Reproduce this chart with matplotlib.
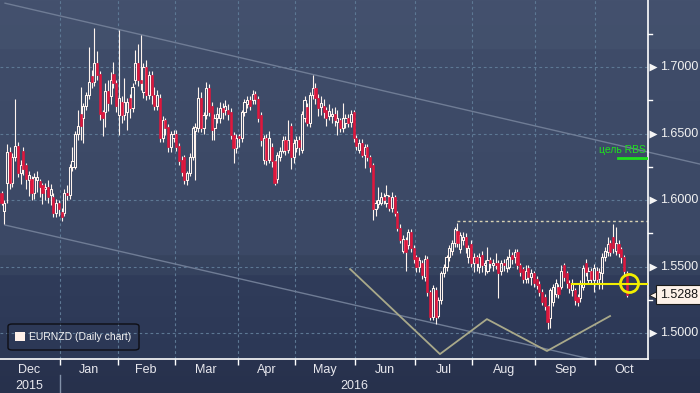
import numpy as np
import pandas as pd
import matplotlib
matplotlib.use("Agg")
import matplotlib.pyplot as plt
import matplotlib.transforms as mtransforms
from matplotlib.patches import Rectangle, FancyBboxPatch
from matplotlib.collections import PatchCollection

plt.rcParams['font.family'] = ['Liberation Sans', 'DejaVu Sans']

# ---------------- data (EURNZD daily, Dec 2015 - Oct 2016) ----------------
start_date = '2015-12-02'

opens = [
    1.605, 1.592, 1.613, 1.636, 1.613, 1.632, 1.641, 1.620, 1.637, 1.626, 1.615, 1.616, 1.605, 1.615, 1.614, 1.611, 1.608, 1.610, 1.604, 1.602, 1.590, 1.598,
    1.591, 1.590, 1.605, 1.604, 1.625, 1.625, 1.650, 1.665, 1.662, 1.671, 1.679, 1.693, 1.689, 1.703, 1.695, 1.666, 1.666, 1.682, 1.678, 1.695, 1.688,
    1.664, 1.674, 1.664, 1.666, 1.677, 1.669, 1.690, 1.703, 1.690, 1.681, 1.700, 1.679, 1.694, 1.679, 1.671, 1.677, 1.647, 1.660, 1.655, 1.640, 1.647,
    1.650, 1.641, 1.630, 1.632, 1.615, 1.620, 1.632, 1.652, 1.654, 1.677, 1.654, 1.664, 1.684, 1.671, 1.654, 1.662, 1.662, 1.669, 1.668, 1.668, 1.666, 1.649, 1.639,
    1.648, 1.647, 1.666, 1.672, 1.675, 1.675, 1.680, 1.676, 1.664, 1.630, 1.647, 1.630, 1.640, 1.629, 1.616, 1.632, 1.637, 1.645, 1.638, 1.656, 1.632,
    1.639, 1.645, 1.638, 1.662, 1.670, 1.658, 1.679, 1.684, 1.677, 1.670, 1.671, 1.668, 1.663, 1.663, 1.665, 1.659, 1.660, 1.654, 1.658, 1.662, 1.659, 1.666,
    1.647, 1.638, 1.643, 1.634, 1.640, 1.632, 1.626, 1.593, 1.597, 1.598, 1.602, 1.598, 1.602, 1.594, 1.602, 1.590, 1.579, 1.562, 1.570, 1.566, 1.576, 1.564,
    1.557, 1.550, 1.553, 1.542, 1.556, 1.531, 1.512, 1.532, 1.513, 1.525, 1.545, 1.550, 1.557, 1.562, 1.568, 1.577, 1.563, 1.570, 1.572, 1.557, 1.567,
    1.553, 1.557, 1.550, 1.559, 1.551, 1.547, 1.555, 1.551, 1.553, 1.553, 1.547, 1.553, 1.549, 1.550, 1.559, 1.557, 1.561, 1.551, 1.548, 1.541, 1.549, 1.542, 1.545,
    1.541, 1.537, 1.531, 1.527, 1.520, 1.511, 1.523, 1.529, 1.535, 1.535, 1.551, 1.545, 1.538, 1.532, 1.532, 1.527, 1.526, 1.535, 1.553, 1.540, 1.547, 1.540,
    1.547, 1.541, 1.545, 1.557, 1.561, 1.568, 1.572, 1.562, 1.567, 1.563, 1.557, 1.545,
]
highs = [
    1.607, 1.600, 1.642, 1.640, 1.635, 1.676, 1.644, 1.630, 1.640, 1.628, 1.622, 1.618, 1.620, 1.622, 1.616, 1.613, 1.613, 1.615, 1.612, 1.605, 1.601, 1.600,
    1.594, 1.608, 1.611, 1.627, 1.640, 1.652, 1.668, 1.685, 1.673, 1.681, 1.715, 1.698, 1.729, 1.712, 1.697, 1.668, 1.688, 1.690, 1.696, 1.704, 1.690,
    1.728, 1.678, 1.692, 1.677, 1.680, 1.688, 1.713, 1.717, 1.724, 1.703, 1.705, 1.697, 1.697, 1.685, 1.683, 1.680, 1.663, 1.662, 1.657, 1.652, 1.653,
    1.653, 1.643, 1.633, 1.634, 1.622, 1.635, 1.656, 1.658, 1.685, 1.681, 1.666, 1.689, 1.687, 1.674, 1.665, 1.670, 1.674, 1.673, 1.675, 1.672, 1.669, 1.651, 1.650,
    1.650, 1.668, 1.676, 1.678, 1.678, 1.683, 1.682, 1.678, 1.666, 1.649, 1.650, 1.652, 1.643, 1.630, 1.636, 1.640, 1.648, 1.648, 1.660, 1.658, 1.646,
    1.648, 1.648, 1.667, 1.678, 1.673, 1.681, 1.694, 1.688, 1.680, 1.678, 1.676, 1.670, 1.672, 1.669, 1.670, 1.668, 1.662, 1.673, 1.665, 1.665, 1.668, 1.668,
    1.649, 1.646, 1.646, 1.642, 1.642, 1.634, 1.628, 1.600, 1.610, 1.606, 1.605, 1.611, 1.604, 1.606, 1.604, 1.592, 1.582, 1.574, 1.572, 1.578, 1.578, 1.566,
    1.559, 1.557, 1.555, 1.559, 1.558, 1.532, 1.536, 1.535, 1.527, 1.547, 1.552, 1.559, 1.566, 1.570, 1.580, 1.583, 1.576, 1.576, 1.575, 1.566, 1.570,
    1.560, 1.559, 1.560, 1.562, 1.555, 1.565, 1.557, 1.556, 1.560, 1.555, 1.555, 1.556, 1.558, 1.563, 1.561, 1.563, 1.563, 1.553, 1.550, 1.551, 1.551, 1.548, 1.547,
    1.543, 1.539, 1.533, 1.529, 1.521, 1.534, 1.537, 1.541, 1.537, 1.551, 1.553, 1.547, 1.540, 1.541, 1.534, 1.529, 1.540, 1.551, 1.556, 1.550, 1.549, 1.552,
    1.550, 1.549, 1.560, 1.565, 1.572, 1.570, 1.582, 1.580, 1.570, 1.565, 1.559, 1.547,
]
lows = [
    1.596, 1.582, 1.598, 1.608, 1.610, 1.629, 1.617, 1.612, 1.619, 1.608, 1.603, 1.600, 1.601, 1.606, 1.602, 1.597, 1.600, 1.598, 1.596, 1.587, 1.587, 1.588,
    1.584, 1.588, 1.600, 1.601, 1.622, 1.623, 1.645, 1.645, 1.643, 1.668, 1.676, 1.684, 1.686, 1.690, 1.660, 1.648, 1.655, 1.667, 1.672, 1.684, 1.666,
    1.649, 1.658, 1.660, 1.653, 1.662, 1.666, 1.687, 1.686, 1.683, 1.677, 1.675, 1.676, 1.672, 1.668, 1.668, 1.644, 1.644, 1.649, 1.636, 1.636, 1.644,
    1.637, 1.626, 1.618, 1.612, 1.611, 1.618, 1.630, 1.615, 1.651, 1.651, 1.650, 1.661, 1.663, 1.645, 1.645, 1.658, 1.658, 1.661, 1.664, 1.660, 1.646, 1.628, 1.635,
    1.640, 1.644, 1.663, 1.669, 1.668, 1.672, 1.672, 1.659, 1.641, 1.627, 1.626, 1.628, 1.625, 1.611, 1.613, 1.629, 1.635, 1.634, 1.635, 1.623, 1.628,
    1.636, 1.634, 1.635, 1.659, 1.656, 1.655, 1.676, 1.672, 1.663, 1.664, 1.662, 1.656, 1.660, 1.658, 1.656, 1.649, 1.651, 1.651, 1.654, 1.655, 1.655, 1.644,
    1.638, 1.635, 1.632, 1.624, 1.629, 1.621, 1.585, 1.588, 1.594, 1.596, 1.597, 1.595, 1.592, 1.591, 1.588, 1.577, 1.568, 1.560, 1.547, 1.563, 1.561, 1.553,
    1.546, 1.546, 1.541, 1.539, 1.528, 1.510, 1.510, 1.507, 1.511, 1.522, 1.542, 1.547, 1.554, 1.559, 1.565, 1.565, 1.560, 1.566, 1.560, 1.553, 1.550,
    1.546, 1.547, 1.545, 1.546, 1.544, 1.545, 1.549, 1.547, 1.548, 1.526, 1.544, 1.547, 1.546, 1.548, 1.552, 1.553, 1.548, 1.543, 1.538, 1.538, 1.538, 1.536, 1.535,
    1.533, 1.528, 1.521, 1.517, 1.503, 1.504, 1.520, 1.527, 1.526, 1.533, 1.539, 1.534, 1.530, 1.528, 1.521, 1.520, 1.523, 1.532, 1.543, 1.537, 1.538, 1.531,
    1.538, 1.533, 1.533, 1.554, 1.558, 1.558, 1.560, 1.559, 1.557, 1.553, 1.544, 1.527,
]
closes = [
    1.598, 1.598, 1.636, 1.613, 1.632, 1.641, 1.620, 1.626, 1.623, 1.616, 1.619, 1.605, 1.617, 1.617, 1.610, 1.605, 1.610, 1.602, 1.608, 1.590, 1.598, 1.593,
    1.587, 1.605, 1.604, 1.625, 1.629, 1.650, 1.656, 1.656, 1.671, 1.679, 1.689, 1.689, 1.703, 1.694, 1.665, 1.662, 1.682, 1.673, 1.690, 1.688, 1.671,
    1.677, 1.664, 1.674, 1.674, 1.669, 1.685, 1.703, 1.690, 1.688, 1.700, 1.679, 1.694, 1.679, 1.671, 1.679, 1.647, 1.660, 1.654, 1.640, 1.650, 1.650,
    1.640, 1.629, 1.621, 1.615, 1.620, 1.632, 1.654, 1.655, 1.677, 1.654, 1.664, 1.684, 1.666, 1.653, 1.662, 1.665, 1.669, 1.666, 1.671, 1.665, 1.649, 1.639, 1.647,
    1.647, 1.666, 1.674, 1.675, 1.671, 1.680, 1.676, 1.662, 1.645, 1.647, 1.630, 1.647, 1.629, 1.613, 1.634, 1.637, 1.645, 1.638, 1.645, 1.632, 1.643,
    1.645, 1.640, 1.665, 1.675, 1.658, 1.679, 1.684, 1.677, 1.669, 1.673, 1.666, 1.662, 1.667, 1.665, 1.660, 1.662, 1.654, 1.662, 1.662, 1.658, 1.665, 1.647,
    1.641, 1.643, 1.634, 1.640, 1.632, 1.625, 1.593, 1.598, 1.600, 1.602, 1.600, 1.604, 1.594, 1.602, 1.590, 1.579, 1.570, 1.571, 1.561, 1.576, 1.564, 1.556,
    1.550, 1.555, 1.544, 1.556, 1.531, 1.512, 1.534, 1.512, 1.525, 1.545, 1.550, 1.557, 1.564, 1.568, 1.578, 1.568, 1.574, 1.572, 1.565, 1.564, 1.553,
    1.557, 1.553, 1.557, 1.551, 1.553, 1.555, 1.553, 1.553, 1.551, 1.545, 1.553, 1.551, 1.556, 1.557, 1.556, 1.561, 1.551, 1.546, 1.541, 1.547, 1.542, 1.545, 1.538,
    1.536, 1.531, 1.523, 1.520, 1.508, 1.532, 1.535, 1.538, 1.529, 1.547, 1.542, 1.538, 1.534, 1.538, 1.525, 1.523, 1.538, 1.549, 1.546, 1.547, 1.541, 1.549,
    1.541, 1.546, 1.557, 1.562, 1.567, 1.561, 1.564, 1.568, 1.560, 1.557, 1.547, 1.5288,
]

y_ticks = [1.5000, 1.5500, 1.6000, 1.6500, 1.7000]
y_minor = [1.525, 1.575, 1.625, 1.675, 1.725]
last_price = 1.5288

# annotations drawn on the chart (bar index, price)
upper_channel_x = [1.3, 255.9]
upper_channel_y = [1.748, 1.627]
lower_channel_x = [1.3, 215.6]
lower_channel_y = [1.5812, 1.4805]
zigzag_x = [127.7, 160.6, 177.8, 199.8, 222.9]
zigzag_y = [1.5481, 1.4842, 1.5105, 1.4865, 1.5128]
resistance_x = [166.8, 236.8]
resistance_y = 1.5842
support_x = [209.0, 236.8]
support_y = 1.5368
circle_x = 229.9
circle_y = 1.5376
target_x = [225.8, 236.8]
target_y = 1.6316
target_label = 'цель RBS'
legend_label = 'EURNZD (Daily chart)'

# ---------------- figure ----------------
W, H = 700, 393
fig = plt.figure(figsize=(W / 100, H / 100), dpi=100)

# background gradient (full figure)
stops_row = [0, 48, 49, 254, 255, 274, 275, 358, 359, 392]
stops_col = ['#44516e', '#42506c', '#3f4c69', '#3b4865', '#37445f', '#35425e',
             '#303c5a', '#2c3856', '#29334f', '#27314c']
rgb = np.array([matplotlib.colors.to_rgb(c) for c in stops_col])
rows = np.arange(H)
grad = np.stack([np.interp(rows, stops_row, rgb[:, i]) for i in range(3)], axis=-1)[:, None, :]
bg = fig.add_axes([0, 0, 1, 1], zorder=-5)
bg.imshow(grad, aspect='auto', extent=[0, 1, 0, 1], interpolation='nearest')
bg.set_axis_off()

ax_left, ax_right, ax_top, ax_bot = 0, 648, 0, 359
ax = fig.add_axes([ax_left / W, (H - ax_bot) / H, (ax_right - ax_left) / W, (ax_bot - ax_top) / H])
ax.patch.set_alpha(0)

n = len(closes)
xs = np.arange(n)
xlim = (-0.55, 236.8)
ylim = (1.4805, 1.7504)
ax.set_xlim(*xlim)
ax.set_ylim(*ylim)

# calendar / month boundaries
full_days = pd.bdate_range('2015-12-01', '2016-10-31')
pos = np.arange(len(full_days)) - 1
months = pd.Series(pos, index=full_days).groupby([full_days.year, full_days.month])
month_info = []
for (yr, mo), s in months:
    st, en = s.iloc[0] - 0.5, s.iloc[-1] + 0.5
    month_info.append((yr, mo, st, en))
boundaries = [m[2] for m in month_info[1:]]

grid_c = '#5d7894'
for b in boundaries:
    ax.axvline(b, color=grid_c, lw=0.8, ls=(0, (2.5, 2.5)), zorder=1)
for yt in y_ticks:
    ax.axhline(yt, color=grid_c, lw=0.8, ls=(0, (2.5, 2.5)), zorder=1)

# candles
up_c = '#fff4ee'
dn_c = '#e0173d'
bw = 0.78
for i in range(n):
    o, h, l, c = opens[i], highs[i], lows[i], closes[i]
    top, bot = max(o, c), min(o, c)
    ax.vlines(xs[i], top, h, color=up_c, lw=0.8, zorder=3)
    ax.vlines(xs[i], l, bot, color=up_c, lw=0.8, zorder=3)
up_rects, dn_rects = [], []
for i in range(n):
    o, c = opens[i], closes[i]
    r = Rectangle((xs[i] - bw / 2, min(o, c)), bw, max(abs(c - o), 0.0004))
    (up_rects if c >= o else dn_rects).append(r)
ax.add_collection(PatchCollection(up_rects, facecolor='none', edgecolor=up_c, lw=0.75, zorder=4))
ax.add_collection(PatchCollection(dn_rects, facecolor=dn_c, edgecolor=dn_c, lw=0.4, zorder=4))

# drawings
ax.plot(upper_channel_x, upper_channel_y, color='#6f7c95', lw=1.0, zorder=2, clip_on=False)
ax.plot(lower_channel_x, lower_channel_y, color='#6f7c95', lw=1.0, zorder=2)
ax.plot(zigzag_x, zigzag_y, color='#a9a98a', lw=1.3, zorder=2)
ax.plot(resistance_x, [resistance_y] * 2, color='#d8d2b4', lw=1.0, ls=(0, (2, 2)), zorder=2)
ax.plot(support_x, [support_y] * 2, color='#f2ee00', lw=1.5, zorder=5)
ax.plot([circle_x], [circle_y], marker='o', ms=13, mfc='none', mec='#f2ee00', mew=2, zorder=6)
ax.plot(target_x, [target_y] * 2, color='#1ee01e', lw=2, zorder=5)
ax.annotate(target_label, xy=(target_x[1] - 0.8, target_y), xytext=(0, 2.5), textcoords='offset points',
            ha='right', va='bottom', color='#1ee01e', fontsize=7.5)

# spines / ticks
for s in ['top', 'left']:
    ax.spines[s].set_visible(False)
ax.spines['bottom'].set_color('white')
ax.spines['right'].set_color('white')
ax.spines['bottom'].set_linewidth(1.2)
ax.spines['right'].set_linewidth(1.2)
ax.set_xticks(boundaries)
ax.set_xticklabels([])
ax.tick_params(axis='x', direction='out', length=4, color='white', width=1)
ax.set_yticks([])

# right axis labels
bt = mtransforms.blended_transform_factory(ax.transAxes, ax.transData)
for yt in y_ticks:
    ax.text(1.0185, yt, f'{yt:.4f}', transform=bt, ha='left', va='center', color='#f2f2f2', fontsize=9, clip_on=False)
    ax.plot([1.0075], [yt], marker='>', ms=5.5, color='#f5f5f5', mec='none', transform=bt, clip_on=False)
for ym in y_minor:
    ax.plot([1.0, 1.006], [ym, ym], color='white', lw=1, transform=bt, clip_on=False)

# last price tag
ax.text(1.0185, last_price, f'{last_price:.4f}', transform=bt, ha='left', va='center', color='#151515',
        fontsize=9, clip_on=False, zorder=10,
        bbox=dict(boxstyle='square,pad=0.28', fc='#fdf1e8', ec='#1a1a1a', lw=0.8))
ax.plot([1.0095], [last_price], marker='<', ms=7, color='#fdf1e8', mec='#1a1a1a', mew=0.6,
        transform=bt, clip_on=False, zorder=9)

# month & year labels
bx = mtransforms.blended_transform_factory(ax.transData, ax.transAxes)
mnames = {1: 'Jan', 2: 'Feb', 3: 'Mar', 4: 'Apr', 5: 'May', 6: 'Jun', 7: 'Jul', 8: 'Aug',
          9: 'Sep', 10: 'Oct', 11: 'Nov', 12: 'Dec'}
for yr, mo, st, en in month_info:
    mid = (st + en) / 2
    if xlim[0] <= mid <= xlim[1]:
        ax.text(mid, -0.031, mnames[mo], transform=bx, ha='center', va='center', color='#e8e8ee',
                fontsize=9, clip_on=False)
y2015 = [m for m in month_info if m[0] == 2015]
ax.text((y2015[0][2] + y2015[-1][3]) / 2, -0.074, '2015', transform=bx, ha='center', va='center',
        color='#e8e8ee', fontsize=9, clip_on=False)
ax.text((boundaries[0] + xlim[1]) / 2, -0.074, '2016', transform=bx, ha='center', va='center',
        color='#e8e8ee', fontsize=9, clip_on=False)
ax.plot([boundaries[0]] * 2, [-0.045, -0.1], color='#8291a8', lw=1, transform=bx, clip_on=False)

# legend box
leg = FancyBboxPatch((8 / W, (H - 350) / H), 131 / W, 26 / H, boxstyle='round,pad=0,rounding_size=0.006',
                     transform=fig.transFigure, fc='none', ec='#0e0e14', lw=1.0)
fig.patches.append(leg)
fig.patches.append(Rectangle((15 / W, (H - 341) / H), 10 / W, 9 / H, transform=fig.transFigure,
                             fc='#fff1ea', ec='none'))
fig.text(29 / W, (H - 337) / H, legend_label, ha='left', va='center', color='#f4f4f4', fontsize=7.5)

fig.savefig('out.png', dpi=100)
